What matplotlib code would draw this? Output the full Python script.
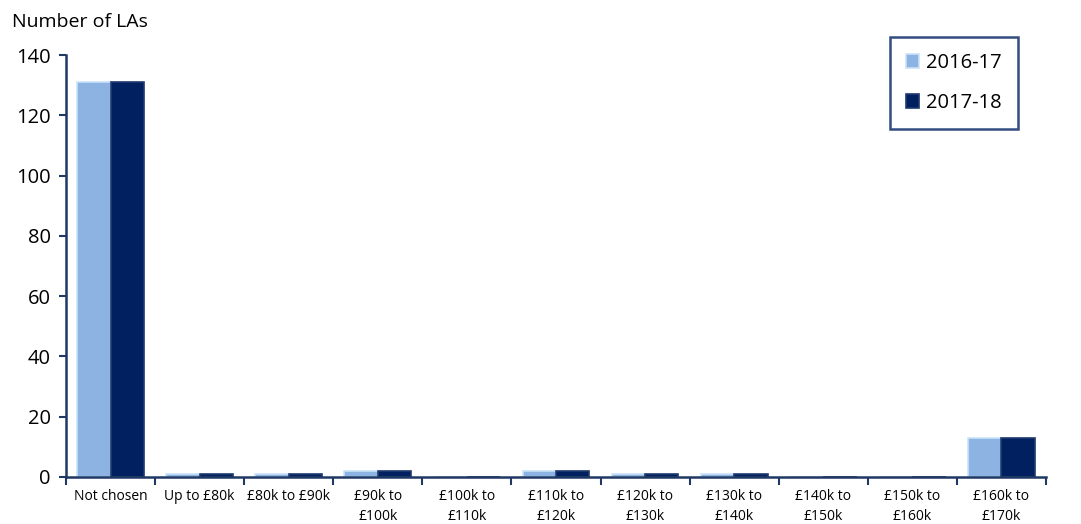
import numpy as np
import matplotlib.pyplot as plt

categories = ['Not chosen', 'Up to £80k', '£80k to £90k', '£90k to\n£100k', '£100k to\n£110k',
              '£110k to\n£120k', '£120k to\n£130k', '£130k to\n£140k', '£140k to\n£150k',
              '£150k to\n£160k', '£160k to\n£170k']
vals_1617 = [131, 1, 1, 2, 0, 2, 1, 1, 0, 0, 13]
vals_1718 = [131, 1, 1, 2, 0, 2, 1, 1, 0, 0, 13]
series_names = ['2016-17', '2017-18']

navy = '#002060'
light = '#8DB3E2'
axcol = '#1F3864'

plt.rcParams['font.family'] = ['Open Sans', 'DejaVu Sans']

fig = plt.figure(figsize=(10.81, 5.24), dpi=100)
ax = fig.add_axes([66/1081, 47/524, 980/1081, 422/524])

x = np.arange(len(categories))
w = 0.375
ax.bar(x - w/2, vals_1617, w, color=light, edgecolor='#C9E3F7', linewidth=1.2, label=series_names[0])
ax.bar(x + w/2, vals_1718, w, color=navy, edgecolor='#1F3A6E', linewidth=1.2, label=series_names[1])

ax.set_xlim(-0.5, len(categories) - 0.5)
ax.set_ylim(0, 140)
ax.set_yticks(range(0, 141, 20))
ax.tick_params(axis='y', labelsize=14.5, length=5, width=1.5, color=axcol, pad=6)

ax.set_xticks(x)
ax.set_xticklabels(categories, fontsize=10, linespacing=1.45)
ax.tick_params(axis='x', which='major', length=0, pad=9)
ax.set_xticks(np.arange(-0.5, len(categories), 1), minor=True)
ax.tick_params(axis='x', which='minor', length=6, width=1.5, color=axcol, direction='out')

for s in ['top', 'right']:
    ax.spines[s].set_visible(False)
for s in ['left', 'bottom']:
    ax.spines[s].set_color(axcol)
    ax.spines[s].set_linewidth(1.8)

fig.text(12/1081, 1 - 22/524, 'Number of LAs', fontsize=14, va='center', ha='left')

leg = ax.legend(loc='upper right', bbox_to_anchor=(1018/1081, 1 - 37/524), bbox_transform=fig.transFigure,
                fontsize=14.5, frameon=True, fancybox=False, handlelength=0.65, handleheight=0.65,
                handletextpad=0.35, labelspacing=1.0, borderpad=0.8, borderaxespad=0)
leg.get_frame().set_edgecolor(navy)
leg.get_frame().set_linewidth(1.8)

fig.savefig('out.png', dpi=100)
